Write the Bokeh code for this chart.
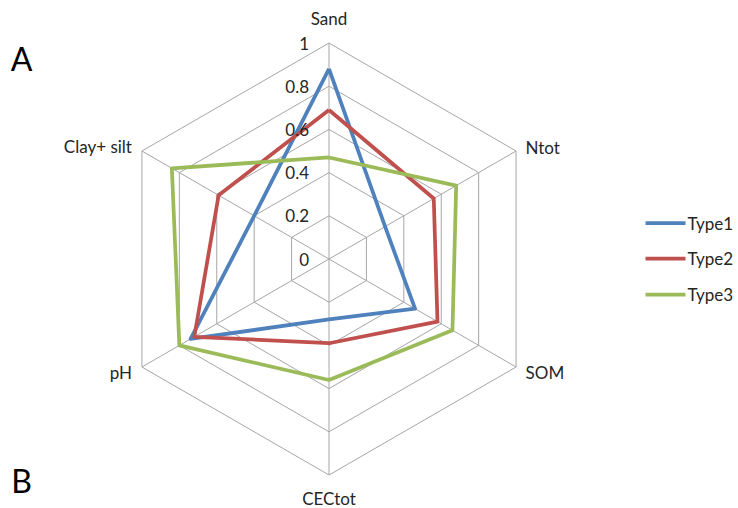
import numpy as np
from bokeh.plotting import figure
from bokeh.models import Range1d
from bokeh.embed import file_html
from bokeh.resources import INLINE
from bokeh.core.properties import value

# ---- data ----
categories = ["Sand", "Ntot", "SOM", "CECtot", "pH", "Clay+ silt"]
type1 = [0.88, 0.30, 0.46, 0.28, 0.74, 0.40]
type2 = [0.69, 0.56, 0.58, 0.39, 0.72, 0.59]
type3 = [0.47, 0.68, 0.66, 0.56, 0.80, 0.84]
series_names = ["Type1", "Type2", "Type3"]
tick_values = [0.0, 0.2, 0.4, 0.6, 0.8, 1.0]
tick_labels = ["0", "0.2", "0.4", "0.6", "0.8", "1"]
panel_labels = ["A", "B"]

# ---- style ----
colors = ["#4F81BD", "#C0504D", "#9BBB59"]
grid_color = "#A6A6A6"
text_color = "#262626"
FONT = value("Lato")
R = 216.0  # radius in pixels (data unit = 1px)

W, H = 738, 508
cx, cy = 328.5, 258.5  # center position inside the canvas (px from left / top)

p = figure(width=W, height=H, output_backend="svg", toolbar_location=None,
           x_range=Range1d(-cx, W - cx), y_range=Range1d(-(H - cy), cy),
           x_axis_location=None, y_axis_location=None, min_border=0)
p.outline_line_color = None
p.grid.visible = False
p.background_fill_color = "white"
p.border_fill_color = "white"

n = len(categories)
ang = np.pi / 2 - np.arange(n) * 2 * np.pi / n
ca, sa = np.cos(ang), np.sin(ang)

# rings
for tv in tick_values[1:]:
    xs = list(R * tv * ca) + [R * tv * ca[0]]
    ys = list(R * tv * sa) + [R * tv * sa[0]]
    p.line(xs, ys, line_color=grid_color, line_width=1)
# spokes
p.segment(x0=[0] * n, y0=[0] * n, x1=list(R * ca), y1=list(R * sa),
          line_color=grid_color, line_width=1)

# series
for vals, col in zip([type1, type2, type3], colors):
    v = np.array(vals + [vals[0]])
    a_c = np.append(ca, ca[0])
    a_s = np.append(sa, sa[0])
    p.line(list(R * v * a_c), list(R * v * a_s), line_color=col,
           line_width=3.75, line_join="round")

# tick labels
p.text(x=[-20.0] * len(tick_values), y=[R * t for t in tick_values],
       text=tick_labels, text_align="right", text_baseline="middle",
       text_font=FONT, text_font_size="17px", text_color=text_color)

# category labels
lx, ly, la = [], [], []
for i in range(n):
    x, y = R * ca[i], R * sa[i]
    if abs(ca[i]) < 1e-6:
        lx.append(0.0)
        ly.append(y + (25.0 if sa[i] > 0 else -23.0))
        la.append("center")
    elif ca[i] > 0:
        lx.append(x + 9.5)
        ly.append(y + (4.0 if sa[i] > 0 else -5.0))
        la.append("left")
    else:
        lx.append(x - 10.0)
        ly.append(y + (5.0 if sa[i] > 0 else -5.0))
        la.append("right")
for i in range(n):
    p.text(x=[lx[i]], y=[ly[i]], text=[categories[i]], text_align=la[i],
           text_baseline="middle", text_font=FONT, text_font_size="17px",
           text_color=text_color)

# legend
leg_x0, leg_x1 = 316.5, 356.5
leg_y = [35.8, 0.5, -35.5]
for name, col, yy in zip(series_names, colors, leg_y):
    p.line([leg_x0, leg_x1], [yy, yy], line_color=col, line_width=3.75)
    p.text(x=[leg_x1 + 2], y=[yy], text=[name], text_align="left",
           text_baseline="middle", text_font=FONT, text_font_size="17px",
           text_color=text_color)

# panel labels
p.text(x=[-307.5, -307.5], y=[200.5, -221.5], text=panel_labels,
       text_align="center", text_baseline="middle", text_font=FONT,
       text_font_size="32px", text_color="#000000")

open("out.html", "w").write(file_html(p, INLINE))
